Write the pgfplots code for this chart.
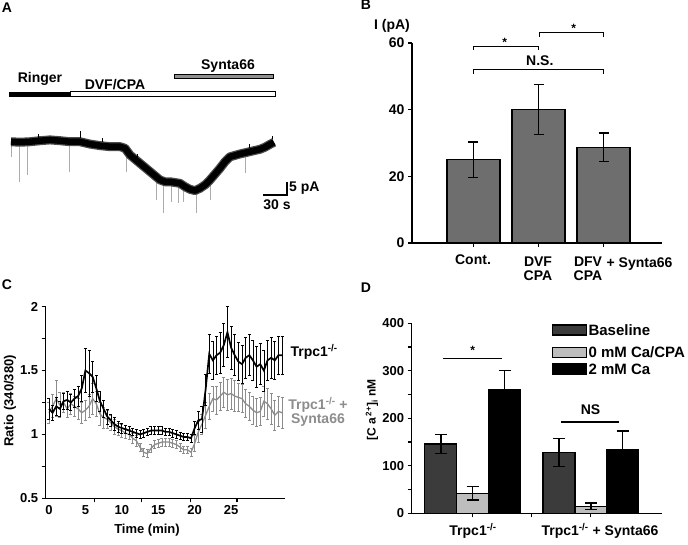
\documentclass[border=0pt]{standalone}
\usepackage{pgfplots}
\pgfplotsset{compat=1.18}
\usepackage{pgfplotstable}
\usepackage{fontspec}
\setmainfont{Liberation Sans}
\definecolor{barB}{HTML}{6E6E6E}
\definecolor{baseD}{HTML}{3B3B3B}
\definecolor{lightD}{HTML}{BDBDBD}
\definecolor{grayC}{HTML}{8C8C8C}
\definecolor{synbar}{HTML}{909090}
\newcommand{\fs}[1]{\fontsize{#1}{#1}\selectfont\bfseries}

\pgfplotstableread{
t b be g ge
0.0 1.20 0.08 1.17 0.08
0.5 1.17 0.06 1.22 0.09
1.0 1.22 0.07 1.28 0.14
1.5 1.20 0.06 1.23 0.10
2.0 1.26 0.06 1.25 0.08
2.5 1.27 0.07 1.20 0.07
3.0 1.25 0.06 1.24 0.08
3.5 1.28 0.07 1.22 0.08
4.0 1.30 0.08 1.20 0.08
4.5 1.36 0.10 1.17 0.08
5.0 1.50 0.17 1.19 0.08
5.5 1.48 0.18 1.22 0.09
6.0 1.45 0.12 1.28 0.12
6.5 1.36 0.10 1.24 0.10
7.0 1.26 0.08 1.16 0.09
7.5 1.20 0.07 1.13 0.08
8.0 1.14 0.06 1.12 0.07
8.5 1.11 0.05 1.09 0.06
9.0 1.08 0.05 1.06 0.06
9.5 1.06 0.04 1.04 0.05
10.0 1.05 0.04 1.03 0.05
10.5 1.04 0.03 1.01 0.04
11.0 1.03 0.03 1.00 0.04
11.5 1.02 0.03 0.97 0.04
12.0 1.01 0.03 0.95 0.04
12.5 1.00 0.03 0.90 0.03
13.0 1.01 0.03 0.86 0.03
13.5 1.02 0.03 0.85 0.03
14.0 1.03 0.03 0.89 0.03
14.5 1.03 0.03 0.92 0.03
15.0 1.03 0.03 0.93 0.03
15.5 1.03 0.03 0.94 0.03
16.0 1.02 0.03 0.94 0.03
16.5 1.02 0.03 0.94 0.03
17.0 1.01 0.03 0.93 0.03
17.5 1.00 0.03 0.92 0.03
18.0 0.99 0.03 0.90 0.03
18.5 0.98 0.03 0.88 0.03
19.0 0.98 0.03 0.88 0.03
19.5 0.97 0.03 0.86 0.03
20.0 1.05 0.05 0.93 0.06
20.5 1.11 0.07 1.02 0.08
21.0 1.12 0.10 1.08 0.08
21.5 1.35 0.12 1.15 0.10
22.0 1.63 0.15 1.22 0.10
22.5 1.58 0.15 1.28 0.10
23.0 1.62 0.15 1.27 0.11
23.5 1.64 0.16 1.30 0.11
24.0 1.70 0.17 1.33 0.12
24.5 1.80 0.20 1.31 0.12
25.0 1.68 0.17 1.32 0.12
25.5 1.62 0.16 1.30 0.12
26.0 1.57 0.15 1.29 0.11
26.5 1.55 0.15 1.28 0.11
27.0 1.60 0.16 1.24 0.11
27.5 1.62 0.16 1.22 0.11
28.0 1.58 0.16 1.19 0.11
28.5 1.53 0.16 1.17 0.11
29.0 1.55 0.16 1.18 0.11
29.5 1.50 0.16 1.26 0.12
30.0 1.58 0.16 1.24 0.12
30.5 1.60 0.16 1.20 0.12
31.0 1.58 0.15 1.15 0.12
31.5 1.62 0.15 1.18 0.12
32.0 1.62 0.15 1.17 0.12
}\Cdata

\pgfplotstableread{
t I
1.25 0.1
12.5 -0.1
25 0.1
37.5 0.5
50 0.8
62.5 0.5
75 0.1
87.5 0.1
100 -0.8
112.5 -1.4
125 -1.8
137.5 -1.8
143.75 -2.4
150 -5.0
162.5 -8.2
175 -11.4
187.5 -14.6
193.75 -15.3
200 -15.3
212.5 -15.9
218.75 -17.2
225 -18.2
231.25 -18.7
237.5 -17.8
243.75 -16.5
250 -14.6
262.5 -10.1
268.75 -7.6
275 -5.7
287.5 -4.6
300 -3.7
312.5 -2.8
318.75 -2.0
325 -0.9
330 -0.1
}\Atrace

\pgfplotsset{
  panel/.style={
    scale only axis, anchor=south west, axis lines=left,
    axis line style={line width=1.5pt,-},
    tick style={line width=1.2pt, black},
    tick align=outside, major tick length=4pt, minor tick length=4pt,
    tick label style={font=\fs{13}},
    /pgf/number format/assume math mode=true,
    clip=false,
  },
}

\begin{document}
\begin{tikzpicture}[x=1pt,y=1pt]
\useasboundingbox (0,0) rectangle (688,545);

% ---------------- Panel A ----------------
\begin{axis}[at={(10pt,330.2pt)}, anchor=south west, scale only axis,
  width=264pt, height=93.6pt, xmin=0, xmax=330, ymin=-28, ymax=8,
  hide axis, clip=false, unbounded coords=jump]
\addplot[gray!65, line width=0.8pt] coordinates {
(2.1,0) (2.1,-5.7) (3,nan)
(11.6,0) (11.6,-15.3) (12,nan)
(22.1,0) (22.1,-12.7) (23,nan)
(74.1,0) (74.1,-11.4) (75,nan)
(145.9,-2.6) (145.9,-11.4) (146,nan)
(183.4,-13) (183.4,-22.3) (184,nan)
(191.3,-15) (191.3,-27.3) (192,nan)
(202.1,-15.3) (202.1,-23) (203,nan)
(210,-15.5) (210,-23.5) (211,nan)
(216.3,-16) (216.3,-23) (217,nan)
(233.4,-18.7) (233.4,-27.4) (234,nan)
(250,-14.6) (250,-22.3) (251,nan)
(293.8,-4.5) (293.8,-12)
};
\addplot[black!70, line width=9pt, line join=round] table[x=t, y=I] {\Atrace};
\addplot[black, line width=6.5pt, line join=round] table[x=t, y=I] {\Atrace};
\addplot[black, line width=1pt] coordinates {
(35,1.5) (35,3.2) (36,nan) (87.5,1.5) (87.5,4.2) (88,nan) (115,0) (115,1.6) (116,nan)
(160,-5.8) (160,-4.6) (161,nan) (300,-2.2) (300,-0.8) (301,nan) (328,1) (328,2.2)};
\addplot[black, line width=1.2pt] coordinates {(316.25,-20.4) (346.25,-20.4) (346.25,-15.4)};
\end{axis}
% solution bars
\fill[black] (9,448) rectangle (70,453);
\draw[line width=1pt, fill=white] (70,448) rectangle (275,453);
\draw[line width=1pt, fill=synbar] (174,466) rectangle (273,470);
\node[font=\fs{14}] at (40,466) {Ringer};
\node[font=\fs{14}] at (115,460) {DVF/CPA};
\node[font=\fs{14}] at (228,479) {Synta66};
\node[font=\fs{14}, anchor=west, inner sep=0] at (289,357) {5 pA};
\node[font=\fs{14}] at (277,340) {30 s};
\node[font=\fs{14}] at (7,537) {A};

% ---------------- Panel B ----------------
\begin{axis}[panel, at={(412pt,302pt)}, width=250pt, height=200pt,
  xmin=0.054, xmax=3.9, ymin=0, ymax=60, ytick={0,20,40,60},
  xtick={1,2,3}, xticklabels={}, tick label style={font=\fs{14}}]
\addplot[ybar, bar width=0.815, fill=barB, draw=black, line width=1.6pt,
  error bars/.cd, y dir=both, y explicit,
  error bar style={line width=1.5pt, black},
  error mark options={rotate=90, mark size=5pt, line width=1.5pt, black}]
  coordinates {(1,25) +- (0,5.3) (2,40) +- (0,7.5) (3,28.7) +- (0,4.3)};
\draw[line width=1pt] (axis cs:1,58) -- (axis cs:1,59) -- (axis cs:2,59) -- (axis cs:2,58);
\draw[line width=1pt] (axis cs:2.02,61.8) -- (axis cs:2.02,63) -- (axis cs:3,63) -- (axis cs:3,61.8);
\draw[line width=1.3pt] (axis cs:1,50.8) -- (axis cs:1,52) -- (axis cs:3,52) -- (axis cs:3,50.8);
\node[font=\fs{12}] at (axis cs:1.48,60.3) {*};
\node[font=\fs{12}] at (axis cs:2.54,64.3) {*};
\node[font=\fs{14}] at (axis cs:2.02,54.6) {N.S.};
\end{axis}
\node[font=\fs{14}] at (392,519) {I (pA)};
\node[font=\fs{14}] at (473,285) {Cont.};
\node[font=\fs{14}, align=center] at (538,276.5) {DVF\\CPA};
\node[font=\fs{14}, align=center] at (588,276.5) {DFV\\CPA};
\node[font=\fs{14}] at (639.5,281) {+ Synta66};
\node[font=\fs{14}] at (366,540) {B};

% ---------------- Panel C ----------------
\begin{axis}[panel, at={(45.7pt,46.7pt)}, width=239.3pt, height=191.6pt,
  xmin=-0.45, xmax=32.4, ymin=0.5, ymax=2,
  ytick={0.5,1,1.5,2}, minor ytick={0.75,1.25,1.75},
  xtick={6.3,12.7,19.4,25.8}, xticklabels={},
  extra x ticks={0,5,10,15,20,25},
  extra x tick style={major tick length=0pt, tick label style={yshift=-4pt}}]
\addplot[grayC, line width=1.3pt, no marks,
  error bars/.cd, y dir=both, y explicit,
  error bar style={line width=0.7pt, grayC},
  error mark options={rotate=90, mark size=1.5pt, line width=0.7pt, grayC}]
  table[x=t, y=g, y error=ge] {\Cdata};
\addplot[black, line width=1.7pt, no marks,
  error bars/.cd, y dir=both, y explicit,
  error bar style={line width=0.7pt, black},
  error mark options={rotate=90, mark size=1.5pt, line width=0.7pt, black}]
  table[x=t, y=b, y error=be] {\Cdata};
\end{axis}
\node[font=\fs{13}, rotate=90] at (10,144) {Ratio (340/380)};
\node[font=\fs{13}] at (147,15) {Time (min)};
\node[font=\fs{14}, anchor=west] at (287,193) {Trpc1\textsuperscript{-/-}};
\node[font=\fs{14}, text=grayC, align=center] at (318,133) {Trpc1\textsuperscript{-/-} +\\Synta66};
\node[font=\fs{14}] at (7,260) {C};

% ---------------- Panel D ----------------
\begin{axis}[panel, at={(411.7pt,31.7pt)}, width=250pt, height=190pt,
  xmin=0.482, xmax=2.604, ymin=0, ymax=400,
  ytick={0,100,200,300,400}, minor ytick={50,150,250,350},
  xtick={1,1.5,2}, xticklabels={}]
\pgfplotsset{Dbar/.style={ybar, bar width=0.272, bar shift=0pt, draw=black, line width=1.3pt,
  error bars/.cd, y dir=both, y explicit,
  error bar style={line width=1.4pt, black},
  error mark options={rotate=90, mark size=6pt, line width=1.4pt, black}}}
\addplot[fill=baseD, Dbar] coordinates {(0.729,146) +- (0,20) (1.732,128) +- (0,30)};
\addplot[fill=lightD, Dbar] coordinates {(1.0,42) +- (0,14) (2.003,15) +- (0,7)};
\addplot[fill=black, Dbar] coordinates {(1.272,261) +- (0,39) (2.272,135) +- (0,38)};
\draw[line width=1.8pt] (axis cs:0.75,326) -- (axis cs:1.246,326);
\draw[line width=1.8pt] (axis cs:1.75,193) -- (axis cs:2.245,193);
\node[font=\fs{12}] at (axis cs:1.0,342) {*};
\node[font=\fs{14}] at (axis cs:2.0,218) {NS};
\end{axis}
\draw[line width=1.2pt, fill=baseD] (552.3,210) rectangle (586.7,220);
\draw[line width=1.2pt, fill=lightD] (552.3,187.7) rectangle (586.7,197.7);
\draw[line width=1.2pt, fill=black] (552.3,171) rectangle (586.7,181);
\node[font=\fs{15}, anchor=west, inner sep=0] at (588.3,215) {Baseline};
\node[font=\fs{15}, anchor=west, inner sep=0] at (588.3,192.7) {0 mM Ca/CPA};
\node[font=\fs{15}, anchor=west, inner sep=0] at (588.3,176) {2 mM Ca};
\node[font=\fs{12}, rotate=90] at (372,135) {[C a\,\textsuperscript{2+}]\textsubscript{i} nM};
\node[font=\fs{14}] at (473,14) {Trpc1\textsuperscript{-/-}};
\node[font=\fs{14}] at (600,14) {Trpc1\textsuperscript{-/-} + Synta66};
\node[font=\fs{14}] at (366,257) {D};
\end{tikzpicture}
\end{document}
